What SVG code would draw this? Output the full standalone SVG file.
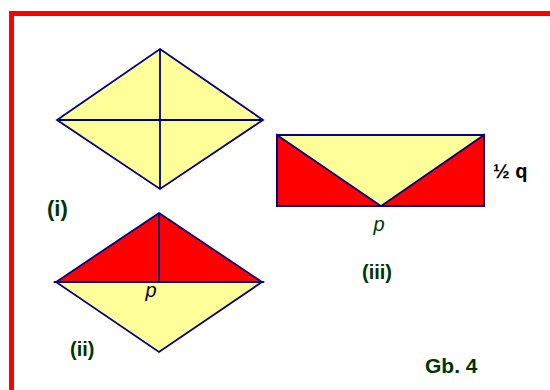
<svg xmlns="http://www.w3.org/2000/svg" width="550" height="390" viewBox="0 0 550 390">
<style>
.ln{stroke:#000080;stroke-width:1.8;stroke-linejoin:miter;fill:none}
.y{fill:#FFFF99;stroke:#000080;stroke-width:1.8}
.r{fill:#FF0000;stroke:#000080;stroke-width:1.8}
.lbl{font-family:"Liberation Sans",Arial,sans-serif;font-weight:bold;fill:#003300}
.it{font-family:"Liberation Sans",Arial,sans-serif;font-style:italic;font-size:20px}
</style>
<rect x="11.5" y="13.5" width="600" height="450" fill="#FFFFFF" stroke="#FF0000" stroke-width="5"/>
<g id="fig-i">
<polygon class="y" points="160,49 263,120 160,189 57,120"/>
<line class="ln" x1="160" y1="49" x2="160" y2="189"/>
<line class="ln" x1="57" y1="120" x2="263" y2="120"/>
<text class="lbl" x="47" y="215.5" font-size="22">(i)</text>
</g>
<g id="fig-ii">
<polygon class="y" points="56,282 262,282 159,352"/>
<polygon class="r" points="159,213 262,282 56,282"/>
<line class="ln" x1="159" y1="213" x2="159" y2="282"/>
<text class="it" x="151" y="296.5" text-anchor="middle" fill="#000000">p</text>
<text class="lbl" x="70" y="356" font-size="20">(ii)</text>
</g>
<g id="fig-iii">
<rect class="y" x="277" y="135" width="207" height="71"/>
<polygon class="r" points="277,135 381,206 277,206"/>
<polygon class="r" points="484,135 484,206 381,206"/>
<rect class="ln" x="277" y="135" width="207" height="71"/>
<text class="it" x="379" y="230.5" text-anchor="middle" fill="#003300">p</text>
<text x="493" y="178" font-family="'Liberation Sans',Arial,sans-serif" font-weight="bold" font-size="20" fill="#000000">½ q</text>
<text class="lbl" x="362" y="279" font-size="20">(iii)</text>
</g>
<g id="caption">
<text class="lbl" x="425" y="373" font-size="21">Gb. 4</text>
</g>
</svg>
